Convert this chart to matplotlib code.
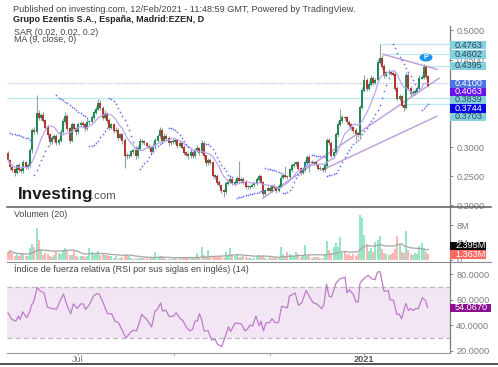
import matplotlib
matplotlib.use("Agg")
import matplotlib.pyplot as plt
import numpy as np
import pandas as pd
from matplotlib.patches import Rectangle, Ellipse

plt.rcParams['font.family'] = ['Liberation Sans', 'DejaVu Sans']

closes = [
 .278,.266,.261,.257,.269,.262,.259,.273,.266,.269,
 .295,.329,.326,.358,.351,.355,.346,.334,.321,.310,
 .315,.319,.307,.312,.326,.344,.353,.332,.312,.338,
 .332,.326,.338,.341,.338,.332,.343,.344,.350,.360,
 .365,.375,.367,.351,.358,.346,.334,.338,.329,.329,
 .317,.321,.312,.286,.285,.286,.293,.295,.285,.298,
 .309,.310,.307,.302,.300,.293,.302,.312,.319,.329,
 .312,.319,.315,.307,.310,.309,.312,.303,.307,.300,
 .291,.288,.285,.291,.285,.295,.298,.291,.307,.285,
 .273,.278,.274,.252,.250,.240,.235,.226,.223,.238,
 .240,.244,.238,.240,.247,.242,.245,.240,.233,.232,
 .233,.235,.238,.244,.249,.240,.221,.226,.230,.226,
 .233,.230,.226,.233,.247,.252,.250,.249,.261,.268,
 .271,.273,.264,.257,.261,.273,.283,.274,.273,.274,
 .271,.264,.264,.261,.269,.312,.307,.286,.291,.321,
 .339,.346,.351,.350,.343,.338,.334,.329,.324,.321,
 .368,.397,.415,.401,.408,.418,.411,.415,.445,.452,
 .438,.423,.428,.428,.426,.425,.401,.384,.386,.372,
 .368,.423,.401,.392,.394,.396,.401,.418,.420,.437,
 .421,.4063]
first_open = .290

upper_wick = [
 3,2,4,3,2,4,3,5,2,3,
 3,4,5,31,6,4,5,3,4,3,
 5,4,3,3,5,6,7,4,3,5,
 4,3,5,4,3,4,6,3,5,4,
 6,7,5,4,6,3,4,3,2,5,
 3,4,4,3,4,3,2,4,3,5,
 6,4,3,2,3,2,5,4,3,6,
 4,5,3,4,3,5,3,2,4,3,
 3,2,3,4,2,3,5,3,6,3,
 2,3,4,3,2,4,3,2,3,4,
 5,4,3,5,3,29,4,3,3,2,
 2,3,4,4,5,3,2,3,4,3,
 2,3,3,4,5,4,15,3,4,5,
 3,4,3,2,3,5,4,3,4,3,
 3,2,3,2,5,4,3,4,3,5,
 6,20,4,3,3,4,3,2,3,2,
 4,6,8,4,5,6,3,4,6,24,
 6,4,3,5,3,4,3,3,5,3,
 2,6,4,3,4,3,4,5,3,5,
 3,2]
lower_wick = [
 3,5,4,6,3,5,4,3,4,3,
 3,5,4,3,5,4,3,5,6,7,
 4,5,4,4,3,3,4,5,5,4,
 3,5,4,3,4,5,3,4,3,3,
 3,2,4,4,3,4,5,3,4,3,
 5,3,6,22,6,4,3,4,5,3,
 3,4,4,3,4,5,3,3,4,3,
 5,3,4,5,3,3,4,5,3,4,
 4,3,5,3,4,3,4,5,3,6,
 5,4,3,5,4,5,4,4,8,3,
 3,2,3,4,3,4,3,3,4,3,
 3,2,4,3,2,4,5,3,2,3,
 3,2,4,3,3,2,3,4,3,4,
 3,3,4,5,3,4,3,17,4,3,
 3,4,3,4,3,4,3,5,4,3,
 3,3,4,3,4,3,4,5,12,4,
 4,3,2,5,4,3,4,3,2,3,
 4,5,3,4,3,3,5,4,5,4,
 6,3,4,5,3,4,3,2,2,3,
 4,3]

volumes = [
 1.5,2.3,1.4,0.9,1.2,0.9,1.2,1.2,0.8,0.9,
 2.7,3.5,3.0,7.3,4.6,2.3,1.0,1.6,1.3,0.9,
 0.6,1.0,2.0,1.5,1.2,2.3,2.7,2.0,1.0,1.1,
 2.0,0.7,0.6,0.8,0.7,0.6,0.8,2.6,1.8,1.0,
 1.6,1.9,1.1,1.2,1.0,1.1,0.8,0.9,0.4,0.7,
 0.2,0.3,0.5,1.1,1.0,0.7,0.3,0.2,0.3,0.1,
 0.3,0.3,0.4,0.3,0.2,0.4,0.5,1.7,0.6,0.9,
 0.8,0.4,0.2,0.2,0.1,0.2,0.3,0.2,0.4,0.2,
 0.3,0.5,0.6,0.4,0.6,0.4,1.5,0.6,2.8,1.0,
 0.5,2.3,0.7,0.5,0.9,0.5,0.7,0.6,0.4,1.7,
 1.0,2.7,1.0,0.8,1.2,0.5,0.6,0.7,0.5,0.4,
 0.3,0.2,0.4,0.5,1.0,0.5,1.1,0.3,0.2,0.5,
 0.4,0.3,0.5,0.4,3.0,1.2,0.6,1.7,1.2,1.1,
 0.8,1.7,1.2,0.6,1.0,3.4,0.7,1.0,0.3,0.5,
 0.5,0.6,0.3,0.4,1.2,4.4,2.3,1.5,2.8,3.8,
 3.0,5.2,1.5,2.0,1.0,1.2,0.9,1.2,0.8,1.2,
 10.4,9.6,5.8,3.5,2.0,2.7,1.8,4.0,4.6,5.4,
 2.5,1.5,1.2,1.0,1.3,1.6,2.5,5.5,3.5,1.7,
 1.5,6.5,2.2,1.2,1.0,1.4,1.2,3.2,3.8,2.6,
 1.8,1.363]

sar_segments = [
 (1, [.324,.323,.322,.321,.320,.319,.317,.316,.315,.313,.311]),
 (12, [.252,.261,.269,.278,.285,.293,.302,.310,.317]),
 (22, [.389,.385,.383,.380,.377,.375,.372,.368,.367,.363,.360,.358,.355,.353,.350]),
 (37, [.302,.302,.303,.307,.310,.317,.322,.327,.333]),
 (46, [.384,.382,.379,.374,.367,.360,.353,.346,.338,.329,.319,.309,.300]),
 (60, [.262,.267,.272,.277,.283,.288,.293,.298,.302,.305,.307]),
 (73, [.332,.332,.331,.329,.326,.321,.315,.310,.305,.300,.295,.291,.288]),
 (89, [.307,.306,.305,.302,.297,.290,.283,.276,.269,.264,.259,.253,.250,.249]),
 (104, [.213,.214,.214,.216,.218,.218,.220,.220,.221,.221,.223,.225,.225]),
 (117, [.264,.263,.262,.261,.260,.259,.257,.256]),
 (125, [.221,.221,.223,.226,.232,.240,.247,.252,.257,.264,.269,.273,.276]),
 (138, [.286,.286,.285,.285,.285,.284,.283]),
 (145, [.251,.252,.253,.254,.256,.261,.268,.274,.283,.290,.295,.300,.305,.309,.312,
        .315,.322,.327,.332,.339,.344,.350,.356,.363,.373,.384,.396,.406,.418]),
 (175, [.476,.469,.462,.455,.449,.442,.435,.428,.421,.415,.408,.401]),
 (188, [.363,.367,.370,.374]),
]

rsi_bars = [0,1.7,3.6,4.7,5.5,6.7,8.5,10,10.8,11.5,13.3,14.5,16.4,17.9,19.8,22.1,23.6,25.2,26.7,28.5,
 29.7,31.5,33,34.2,35.3,37,38.8,40.3,41.4,43.3,45.2,47.1,48.6,50.2,51.7,53.6,55.5,57,58.5,60.8,
 63,65.3,66.8,67.9,69.4,70.2,71.7,73.3,75.2,76.4,78.2,79.4,81.2,82.7,83.9,85,86.1,87,88,89.1,
 91,92.6,94.1,95.2,97.1,98.6,100.2,101.2,103.2,105.5,106.2,107.7,108.8,110,111.2,112.7,114.2,115,116.1,117.3,
 118.8,120,121.4,122.9,124.4,125.9,127,127.9,130.5,132,133.5,135.5,137.3,138.8,140.3,142.6,143.6,144.8,145.9,147.1,
 149.1,150.9,153.2,154.1,155.2,157,158.2,159.2,160,162.3,163.8,165.3,166.8,167.9,169.1,170.9,172.9,173.6,175.2,176.7,
 177.7,178.9,180.8,182,183,184.2,185.3,186.5,188.3,189.8,190.7]
rsi_values = [50,44.7,43.4,47.3,44.7,50.6,46,51.2,56.3,57.6,69.7,67.2,65.4,54.3,53.2,52.7,58.9,64.6,56.3,49.1,
 56.8,53.2,56.8,56.8,52.5,56.3,62.8,64.8,64.6,57.6,49.1,49.1,43.4,42.1,37,30,34.4,36.2,35.7,48.6,
 44.7,38.8,51.2,52.5,57.6,51.2,52,46.8,47.3,49.9,45.5,43.9,38.3,35.7,37,43.4,43.4,49.1,44.7,35.7,
 35.7,28.5,29.2,25.4,23.3,30.5,38.8,35.2,41.9,41.4,40.8,35.7,37,40.3,39.6,47.3,39.6,43.4,35.7,42.1,
 42.1,45.2,42.1,42.1,55,54.3,53.7,62.8,65.4,55.8,57.6,67.4,61.5,57.6,56.8,53.2,56.3,72.3,62.8,62.3,
 73.1,76.5,77.7,65.4,67.9,64.1,58.4,58.4,73.1,77.5,79,76.5,75.7,81.6,82.1,66.6,67.2,60.2,59.7,48.6,
 49.1,45.2,57.1,51.7,53.2,51.7,53.2,53.2,61.5,59.4,54.07]

price_ticks = [0.20, 0.25, 0.30, 0.45, 0.50]
volume_ticks = [0, 4, 8]
rsi_ticks = [20, 40, 60, 80]
month_ticks = [31.8, 75.5, 119]
month_labels = ["Jul", "", ""]
year_tick = 161.8

trend_lines = [((170.5, 195), (.4590, .4333)),
               ((115.9, 195.9), (.2128, .4180)),
               ((142.7, 195), (.2607, .3530))]
full_levels = [.3833, .4100]
part_levels = [(169, .4763), (170.5, .4602), (189, .4395), (180, .3744)]

W, H = 498, 367
fig = plt.figure(figsize=(W/100, H/100), dpi=100, facecolor='white')

def pane(x0, y0, x1, y1):
    return fig.add_axes([x0/W, 1-y1/H, (x1-x0)/W, (y1-y0)/H], facecolor='none')

def px_text(x, y, s, **kw):
    kw.setdefault('va', 'center')
    return fig.text(x/W, 1-y/H, s, **kw)

XL = (-0.45, 200.9)
GRAY = '#7c7c7c'

closes_a = np.array(closes)
opens_a = np.r_[first_open, closes_a[:-1]]
x = np.arange(len(closes_a))
up = closes_a >= opens_a
tops = np.maximum(opens_a, closes_a) + np.array(upper_wick)*0.001
bots = np.minimum(opens_a, closes_a) - np.array(lower_wick)*0.001
GREEN, RED = '#1f8a58', '#b5352f'

ax = pane(7, 26, 450, 207)
ax.set_xlim(*XL); ax.set_ylim(0.1974, 0.5075)
for lv in full_levels[:1]:
    ax.axhline(lv, color='#bfe8f0', lw=0.9, zorder=1)
ax.axhline(full_levels[1], color='#c4c0f5', lw=0.8, ls=(0, (1.5, 1)), zorder=1)
for i0, lv in part_levels:
    ax.plot([i0, XL[1]], [lv, lv], color='#bfe8f0', lw=0.9, zorder=1)
for xs, ys in trend_lines:
    ax.plot(xs, ys, color='#c4a2d8', lw=1.1, zorder=2)
ax.vlines(x, bots, tops, color='#8aa99c', lw=0.8, zorder=3)
ax.bar(x, np.abs(closes_a-opens_a)+0.0015, bottom=np.minimum(opens_a, closes_a)-0.00075,
       width=0.85, color=[GREEN if u else RED for u in up], zorder=4, lw=0)
ma9 = pd.Series(closes_a).rolling(9, min_periods=1).mean()
ax.plot(x, ma9, color='#bba6f0', lw=0.9, zorder=5)
for start, vals in sar_segments:
    ax.scatter(np.arange(start, start+len(vals)), vals, s=1.6, color='#6f75f2', lw=0, zorder=6)
ax.set_yticks(price_ticks)
ax.set_yticklabels([f"{t:.4f}" for t in price_ticks])
ax.set_xticks([])

vax = pane(7, 207, 450, 262)
vax.set_xlim(*XL); vax.set_ylim(-0.58, 12.18)
vol = np.array(volumes)
vax.bar(x, vol, width=0.92, color=['#97e5c6' if u else '#ffb7b3' for u in up], lw=0)
vax.plot(x, pd.Series(vol).rolling(20, min_periods=1).mean(), color='#a6a6a6', lw=0.9)
vax.set_yticks(volume_ticks)
vax.set_yticklabels(["0", "4M", "8M"])
vax.set_xticks([])

rax = pane(7, 262, 450, 352.5)
rax.set_xlim(*XL); rax.set_ylim(18.8, 89.6)
rax.axhspan(30, 70, color='#f2e6f4', lw=0)
for lv in (30, 70):
    rax.axhline(lv, color='#c3b4c6', lw=0.9, ls=(0, (4, 2.5)))
rax.plot(rsi_bars, rsi_values, color='#bd7cc9', lw=0.9)
rax.set_yticks(rsi_ticks)
rax.set_yticklabels([f"{t:.4f}" for t in rsi_ticks])
rax.set_xticks(month_ticks + [year_tick])
rax.set_xticklabels(month_labels + ["2021"], fontsize=6.6, color=GRAY)
rax.get_xticklabels()[-1].set_fontweight('bold')
rax.get_xticklabels()[-1].set_color('#555555')
rax.tick_params(axis='x', length=1.5, width=0.6, color=GRAY, pad=0.5)

for a in (ax, vax, rax):
    for s in ('top', 'left', 'bottom'):
        a.spines[s].set_visible(False)
    a.spines['right'].set_color(GRAY)
    a.spines['right'].set_linewidth(0.9)
    a.yaxis.tick_right()
    a.tick_params(axis='y', length=2.5, width=0.6, color=GRAY, labelcolor=GRAY, labelsize=6.6, pad=2)
    a.patch.set_alpha(0)

def hline(y, color, lw, x0=7, x1=491):
    fig.add_artist(plt.Line2D([x0/W, x1/W], [1-y/H, 1-y/H], color=color, lw=lw))

hline(207, '#5a5a5a', 1.1)
hline(262, '#8c8c8c', 0.8)
hline(352.5, '#9a9a9a', 0.8, x1=450)
hline(364, '#333333', 1.2, x0=0, x1=498)

def box(y, s, face, color, x1=486, h=8.4):
    fig.add_artist(Rectangle((450/W, 1-(y+h/2)/H), (x1-450)/W, h/H, transform=fig.transFigure,
                             facecolor=face, edgecolor='none', zorder=10))
    px_text(455, y, s, color=color, fontsize=6.6, zorder=11)

CY = '#85d0e0'
box(45, "0.4763", CY, '#2b4a55')
box(54.5, "0.4602", CY, '#2b4a55')
box(66, "0.4395", CY, '#2b4a55')
box(84, "0.4100", '#4f73e3', 'white')
box(92, "0.4063", '#6a12ea', 'white')
box(100, "0.3839", CY, '#2b4a55')
box(108.5, "0.3744", '#0808e6', 'white')
box(117, "0.3703", CY, '#2b4a55')
box(246, "2.395M", '#0c0c0c', 'white')
box(254.5, "1.363M", '#f96a62', 'white')
box(308, "54.0670", '#8a0f8f', 'white', x1=491)

fig.add_artist(Ellipse((426/W, 1-57.5/H), 13/W, 8/H, transform=fig.transFigure,
                       facecolor='#1c93ee', edgecolor='none', zorder=9))
px_text(426, 57.5, "P", color='white', fontsize=5.5, fontweight='bold', ha='center', zorder=10)

T = '#444444'
px_text(13, 9.5, "Published on investing.com, 12/Feb/2021 - 11:48:59 GMT, Powered by TradingView.",
        fontsize=6.6, color=T)
px_text(13, 19, "Grupo Ezentis S.A., España, Madrid:EZEN, D", fontsize=6.5, fontweight='bold', color='#222222')
px_text(14, 32.5, "SAR (0.02, 0.02, 0.2)", fontsize=6.4, color=T)
px_text(14, 40, "MA (9, close, 0)", fontsize=6.4, color=T)
px_text(14, 214.5, "Volumen (20)", fontsize=6.4, color=T)
px_text(14, 269, "Índice de fuerza relativa (RSI por sus siglas en inglés) (14)", fontsize=6.45, color=T)
px_text(18, 195, "Investing", fontsize=12.3, fontweight='bold', color='#1a1a1a')
px_text(91, 196, ".com", fontsize=8.2, color='#555555', ha='left')

fig.savefig("out.png", dpi=100)
